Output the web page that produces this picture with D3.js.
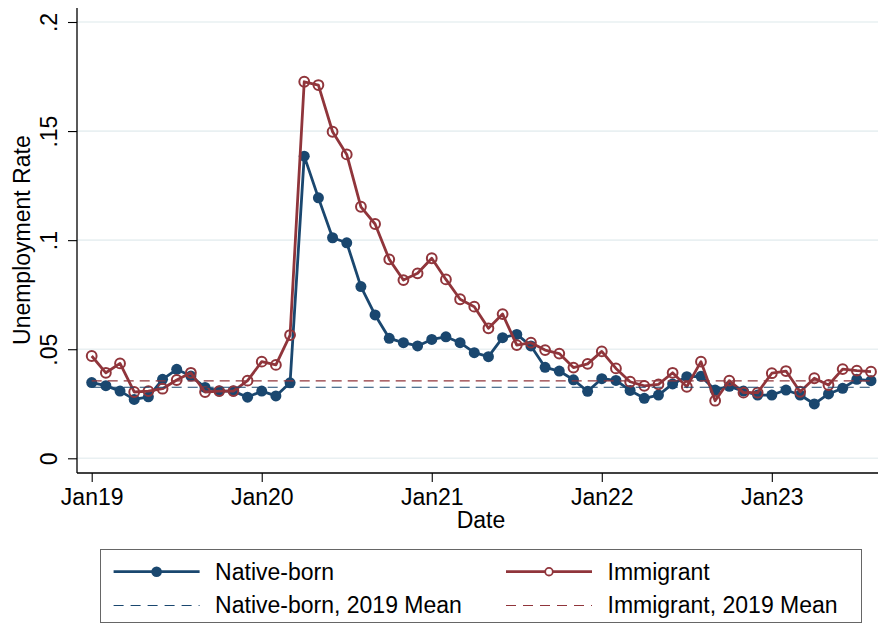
<!DOCTYPE html>
<html>
<head>
<meta charset="utf-8">
<script src="https://cdn.jsdelivr.net/npm/d3@7"></script>
<style>
  html, body { margin: 0; padding: 0; background: #fff; }
  svg { display: block; }
  text { font-family: "Liberation Sans", Arial, Helvetica, sans-serif; fill: #000; }
</style>
</head>
<body>
<svg id="chart" width="878" height="625"></svg>
<script>
// Monthly unemployment rate, Jan 2019 – Aug 2023
const months = d3.timeMonth.range(new Date(2019, 0, 1), new Date(2023, 8, 1));

const nativeBorn = [
  0.0347, 0.0333, 0.0308, 0.0270, 0.0282, 0.0362, 0.0408, 0.0377, 0.0325, 0.0308, 0.0308, 0.0280,
  0.0308, 0.0286, 0.0346, 0.1385, 0.1194, 0.1011, 0.0988, 0.0787, 0.0657, 0.0550, 0.0530, 0.0515,
  0.0545, 0.0557, 0.0530, 0.0484, 0.0466, 0.0553, 0.0568, 0.0515, 0.0417, 0.0400, 0.0360, 0.0307,
  0.0365, 0.0357, 0.0311, 0.0275, 0.0290, 0.0341, 0.0374, 0.0376, 0.0313, 0.0330, 0.0308, 0.0290,
  0.0290, 0.0313, 0.0290, 0.0249, 0.0295, 0.0321, 0.0362, 0.0356
];

const immigrant = [
  0.0469, 0.0392, 0.0435, 0.0304, 0.0308, 0.0319, 0.0359, 0.0392, 0.0304, 0.0308, 0.0308, 0.0356,
  0.0443, 0.0428, 0.0565, 0.1726, 0.1711, 0.1497, 0.1393, 0.1153, 0.1074, 0.0912, 0.0817, 0.0848,
  0.0917, 0.0820, 0.0729, 0.0695, 0.0596, 0.0661, 0.0519, 0.0530, 0.0496, 0.0480, 0.0416, 0.0433,
  0.0490, 0.0412, 0.0351, 0.0332, 0.0339, 0.0392, 0.0328, 0.0443, 0.0264, 0.0356, 0.0301, 0.0301,
  0.0390, 0.0400, 0.0305, 0.0367, 0.0336, 0.0409, 0.0402, 0.0397
];

const xTickIndex = [0, 12, 24, 36, 48];
const xTickLabels = ["Jan19", "Jan20", "Jan21", "Jan22", "Jan23"];
const yTicks = [0, 0.05, 0.1, 0.15, 0.2];
const yTickLabels = ["0", ".05", ".1", ".15", ".2"];

const seriesNames = ["Native-born", "Immigrant"];
const meanNames = ["Native-born, 2019 Mean", "Immigrant, 2019 Mean"];

// 2019 baseline means
const nativeMean = d3.mean(nativeBorn.slice(0, 12));
const immigrantMean = d3.mean(immigrant.slice(0, 12));

const NAVY = "#1a476f";
const MAROON = "#90353b";
const GRID = "#e9f0f2";
const FONT = 23;

// snap thin horizontal strokes to the pixel grid
const crisp = v => Math.round(v) + 0.5;

const svg = d3.select("#chart");

const plot = { left: 77, right: 878, top: 8, bottom: 473 };

const x = d3.scaleLinear().domain([0, months.length - 1]).range([91.7, 871]);
const y = d3.scaleLinear().domain([0, 0.2]).range([458.3, 22]);

// Gridlines
svg.append("g")
  .selectAll("line")
  .data(yTicks)
  .join("line")
  .attr("x1", plot.left).attr("x2", plot.right)
  .attr("y1", d => y(d)).attr("y2", d => y(d))
  .attr("stroke", GRID).attr("stroke-width", 1.6);

// Y axis
const yAxis = d3.axisLeft(y).tickValues(yTicks).tickSize(9)
  .tickFormat((d, i) => yTickLabels[i]);
const gy = svg.append("g").attr("transform", `translate(${plot.left},0)`).call(yAxis);
gy.select(".domain").remove();
gy.selectAll(".tick line").attr("stroke", "#000").attr("stroke-width", 1.1);
gy.selectAll(".tick text")
  .attr("font-size", FONT)
  .attr("text-anchor", "middle")
  .attr("dy", null)
  .attr("x", null)
  .attr("transform", "translate(-20,0) rotate(-90)");
svg.append("line")
  .attr("x1", plot.left).attr("x2", plot.left)
  .attr("y1", plot.top).attr("y2", plot.bottom)
  .attr("stroke", "#000").attr("stroke-width", 1.3);

// X axis
const xAxis = d3.axisBottom(x).tickValues(xTickIndex).tickSize(9)
  .tickFormat((d, i) => xTickLabels[i]);
const gx = svg.append("g").attr("transform", `translate(0,${plot.bottom})`).call(xAxis);
gx.select(".domain").remove();
gx.selectAll(".tick line").attr("stroke", "#000").attr("stroke-width", 1.1);
gx.selectAll(".tick text")
  .attr("font-size", FONT)
  .attr("dy", null)
  .attr("y", 31.5);
svg.append("line")
  .attr("x1", plot.left).attr("x2", plot.right)
  .attr("y1", plot.bottom).attr("y2", plot.bottom)
  .attr("stroke", "#000").attr("stroke-width", 1.3);

// Axis titles
svg.append("text")
  .attr("x", 481).attr("y", 528)
  .attr("text-anchor", "middle")
  .attr("font-size", FONT)
  .text("Date");
svg.append("text")
  .attr("transform", `translate(30,${(y(0) + y(0.2)) / 2}) rotate(-90)`)
  .attr("text-anchor", "middle")
  .attr("font-size", FONT)
  .text("Unemployment Rate");

const line = d3.line().x((d, i) => x(i)).y(d => y(d));

// Native-born series
svg.append("path")
  .datum(nativeBorn)
  .attr("d", line)
  .attr("fill", "none").attr("stroke", NAVY)
  .attr("stroke-width", 2.8).attr("stroke-linejoin", "round");
svg.append("g")
  .selectAll("circle")
  .data(nativeBorn)
  .join("circle")
  .attr("cx", (d, i) => x(i)).attr("cy", d => y(d))
  .attr("r", 5.5).attr("fill", NAVY);

// Immigrant series
svg.append("path")
  .datum(immigrant)
  .attr("d", line)
  .attr("fill", "none").attr("stroke", MAROON)
  .attr("stroke-width", 2.8).attr("stroke-linejoin", "round");
svg.append("g")
  .selectAll("circle")
  .data(immigrant)
  .join("circle")
  .attr("cx", (d, i) => x(i)).attr("cy", d => y(d))
  .attr("r", 4.9).attr("fill", "none")
  .attr("stroke", MAROON).attr("stroke-width", 2);

// 2019 mean reference lines
const meanLines = [
  { value: nativeMean, color: NAVY },
  { value: immigrantMean, color: MAROON }
];
svg.append("g")
  .selectAll("line")
  .data(meanLines)
  .join("line")
  .attr("x1", x(0)).attr("x2", x(months.length - 1))
  .attr("y1", d => y(d.value)).attr("y2", d => y(d.value))
  .attr("stroke", d => d.color).attr("stroke-width", 1.2)
  .attr("stroke-dasharray", "10,6");

// Legend
const legend = svg.append("g");
legend.append("rect")
  .attr("x", 100.5).attr("y", 549.5)
  .attr("width", 761).attr("height", 73)
  .attr("fill", "#fff").attr("stroke", "#666").attr("stroke-width", 1);

const legendItems = [
  { name: seriesNames[0], col: 0, row: 0, color: NAVY, kind: "filled" },
  { name: seriesNames[1], col: 1, row: 0, color: MAROON, kind: "hollow" },
  { name: meanNames[0], col: 0, row: 1, color: NAVY, kind: "dash" },
  { name: meanNames[1], col: 1, row: 1, color: MAROON, kind: "dash" }
];
const colX = [113.6, 506];
const rowY = [571.7, 605];
const keyLen = 86;

legendItems.forEach(it => {
  const x0 = colX[it.col], cy = rowY[it.row];
  const g = legend.append("g");
  if (it.kind === "dash") {
    g.append("line")
      .attr("x1", x0).attr("x2", x0 + keyLen)
      .attr("y1", crisp(cy)).attr("y2", crisp(cy))
      .attr("stroke", it.color).attr("stroke-width", 1)
      .attr("stroke-dasharray", "10,7");
  } else {
    g.append("line")
      .attr("x1", x0).attr("x2", x0 + keyLen)
      .attr("y1", cy).attr("y2", cy)
      .attr("stroke", it.color).attr("stroke-width", 2.8);
    if (it.kind === "filled") {
      g.append("circle").attr("cx", x0 + keyLen / 2).attr("cy", cy)
        .attr("r", 5.3).attr("fill", it.color);
    } else {
      g.append("circle").attr("cx", x0 + keyLen / 2).attr("cy", cy)
        .attr("r", 3.8).attr("fill", "#fff")
        .attr("stroke", it.color).attr("stroke-width", 1.8);
    }
  }
  g.append("text")
    .attr("x", x0 + 101.5).attr("y", cy + 8.3)
    .attr("font-size", FONT)
    .text(it.name);
});
</script>
</body>
</html>
